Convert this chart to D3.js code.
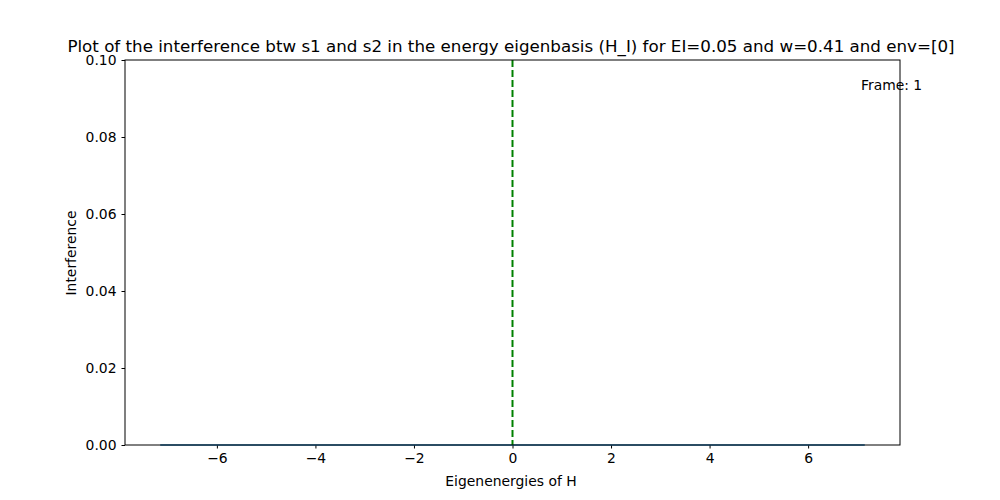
<!DOCTYPE html>
<html><head><meta charset="utf-8">
<script src="https://cdn.jsdelivr.net/npm/d3@7"></script>
<style>body{margin:0;background:#fff}svg{font-family:"DejaVu Sans",sans-serif}</style>
</head><body><svg width="1000" height="500"></svg>
<script>
var energies = [-7.15, -5.5, -3.2, -1.1, 0, 1.1, 3.2, 5.5, 7.15];
var interference = [0, 0, 0, 0, 0, 0, 0, 0, 0];
var xTicks = [-6, -4, -2, 0, 2, 4, 6];
var yTicks = [0, 0.02, 0.04, 0.06, 0.08, 0.1];
var centerLine = 0;

var svg = d3.select("svg");
var margin = { top: 60, right: 100, bottom: 55, left: 125 };
var innerWidth = 1000 - margin.left - margin.right;
var innerHeight = 500 - margin.top - margin.bottom;
var g = svg.append("g").attr("transform", "translate(" + margin.left + "," + margin.top + ")");

var xScale = d3.scaleLinear().domain([-7.865, 7.865]).range([0, innerWidth]);
var yScale = d3.scaleLinear().domain([0, 0.1]).range([innerHeight, 0]);

var xAxis = g.append("g").attr("transform", "translate(0," + innerHeight + ")")
  .call(d3.axisBottom(xScale).tickValues(xTicks).tickSize(3.5).tickPadding(5).tickFormat(d3.format("d")));
var yAxis = g.append("g")
  .call(d3.axisLeft(yScale).tickValues(yTicks).tickSize(3.5).tickPadding(5).tickFormat(d3.format(".2f")));
g.selectAll(".tick text").attr("font-size", 13.9).attr("font-family", "DejaVu Sans").attr("fill", "#000");
xAxis.selectAll(".tick text").text(function (d) { return d < 0 ? "\u2212" + (-d) : d; });
g.selectAll(".domain").remove();

var line = d3.line().x(function (d, i) { return xScale(energies[i]); }).y(function (d) { return yScale(d); });
g.append("path").attr("d", line(interference)).attr("fill", "none").attr("stroke", "#1f77b4").attr("stroke-width", 1.5);

g.append("line").attr("x1", xScale(centerLine)).attr("x2", xScale(centerLine))
  .attr("y1", 0).attr("y2", innerHeight).attr("stroke", "green").attr("stroke-width", 2).attr("stroke-dasharray", "7,3");

g.append("rect").attr("width", innerWidth).attr("height", innerHeight).attr("fill", "none").attr("stroke", "#000").attr("stroke-width", 1);

svg.append("text").attr("x", 511).attr("y", 52).attr("text-anchor", "middle").attr("font-size", 16.7)
  .text("Plot of the interference btw s1 and s2 in the energy eigenbasis (H_I) for EI=0.05 and w=0.41 and env=[0]");
svg.append("text").attr("x", 511).attr("y", 486).attr("text-anchor", "middle").attr("font-size", 13.9).text("Eigenenergies of H");
svg.append("text").attr("transform", "translate(76,253) rotate(-90)").attr("text-anchor", "middle").attr("font-size", 13.9).text("Interference");
svg.append("text").attr("x", 861).attr("y", 90).attr("font-size", 13.9).text("Frame: 1");
</script></body></html>
